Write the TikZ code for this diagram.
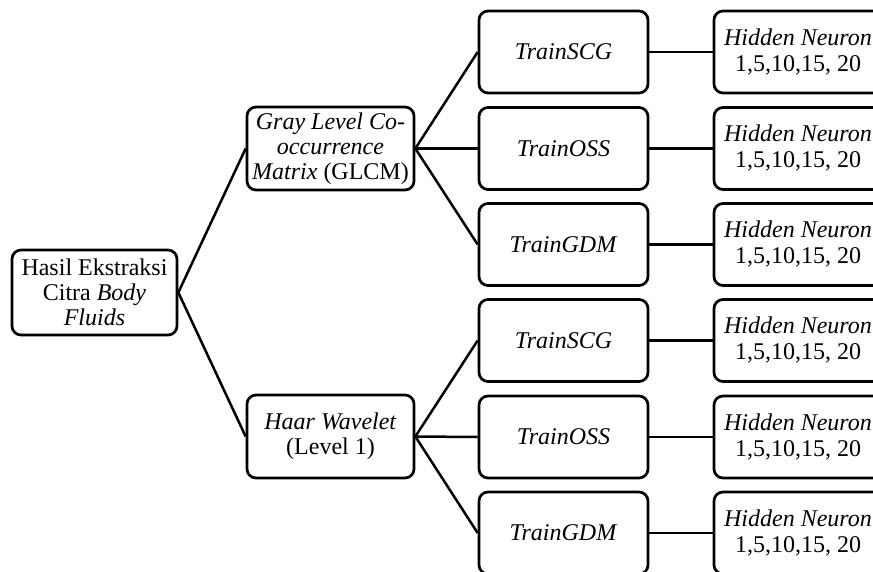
\documentclass[tikz,border=0pt]{standalone}
\usepackage{fontspec}
\setmainfont{Liberation Serif}
\begin{document}
\begin{tikzpicture}[x=1pt,y=-1pt,
  box/.style={draw=black, line width=2.7pt, rounded corners=9pt, fill=white,
    align=center, inner sep=0pt, font=\fontsize{24}{25}\selectfont},
  rootbox/.style={box, minimum width=165pt, minimum height=85pt},
  midbox/.style={box, minimum width=167pt, minimum height=83pt},
  trainbox/.style={box, minimum width=169pt, minimum height=82pt},
  hidbox/.style={box, minimum width=168pt, minimum height=82pt, font=\fontsize{24}{26}\selectfont},
  conn/.style={draw=black, line width=2.5pt}]
\useasboundingbox (0,0) rectangle (873,571);
\clip (0,0) rectangle (873,571);
\node[rootbox] (root) at (94.5,292.5) {Hasil Ekstraksi\\Citra \textit{Body}\\\textit{Fluids}};
\node[midbox] (glcm) at (330.5,148.5) {\textit{Gray Level Co-}\\\textit{occurrence}\\\textit{Matrix} (GLCM)};
\node[midbox] (haar) at (330.5,436.5) {\textit{Haar Wavelet}\\(Level 1)};
\node[trainbox] (t1) at (563.5,52) {\textit{TrainSCG}};
\node[trainbox] (t2) at (563.5,148.5) {\textit{TrainOSS}};
\node[trainbox] (t3) at (563.5,244.5) {\textit{TrainGDM}};
\node[trainbox] (t4) at (563.5,340.5) {\textit{TrainSCG}};
\node[trainbox] (t5) at (563.5,437) {\textit{TrainOSS}};
\node[trainbox] (t6) at (563.5,533) {\textit{TrainGDM}};
\foreach \i/\y in {1/52,2/148.5,3/244.5,4/340.5,5/437,6/533}{
  \node[hidbox] (h\i) at (798,\y) {\textit{Hidden Neuron}\\1,5,10,15, 20};
}
\draw[conn] (root.east) -- (glcm.west);
\draw[conn] (root.east) -- (haar.west);
\draw[conn] (glcm.east) -- (t1.west);
\draw[conn] (glcm.east) -- (t2.west);
\draw[conn] (glcm.east) -- (t3.west);
\draw[conn] (haar.east) -- (t4.west);
\draw[conn] (haar.east) -- (t5.west);
\draw[conn] (haar.east) -- (t6.west);
\foreach \i in {1,...,6}{
  \draw[conn] (t\i.east) -- (h\i.west);
}
\end{tikzpicture}
\end{document}
